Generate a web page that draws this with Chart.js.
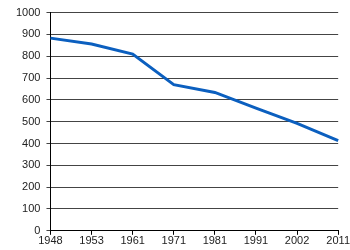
<!DOCTYPE html>
<html>
<head>
<meta charset="utf-8">
<script src="https://cdn.jsdelivr.net/npm/chart.js@4"></script>
<style>
html,body{margin:0;padding:0;background:#fff;}
#wrap{width:350px;height:250px;}
</style>
</head>
<body>
<div id="wrap"><canvas id="c" width="350" height="250"></canvas></div>
<script>
const categories = ['1948','1953','1961','1971','1981','1991','2002','2011'];
const values = [883, 856, 810, 670, 634, 562, 492, 413];
const yTicks = [0,100,200,300,400,500,600,700,800,900,1000];

new Chart(document.getElementById('c'), {
  type: 'line',
  data: {
    labels: categories,
    datasets: [{
      data: values,
      borderColor: '#0b5fbf',
      borderWidth: 3,
      pointRadius: 0,
      tension: 0,
      fill: false
    }]
  },
  options: {
    responsive: false,
    animation: false,
    devicePixelRatio: 1,
    layout: { padding: { left: 10, right: 5, top: 0, bottom: 2 } },
    plugins: { legend: { display: false }, tooltip: { enabled: false } },
    scales: {
      x: {
        offset: false,
        grid: { drawOnChartArea: false, drawTicks: true, tickLength: 4, color: '#000' },
        border: { color: '#000', width: 1 },
        ticks: { color: '#222', font: { family: 'Liberation Sans, Arial', size: 11 }, padding: 0, maxRotation: 0, autoSkip: false }
      },
      y: {
        min: 0, max: 1000,
        afterBuildTicks: (s) => { s.ticks = yTicks.map(v => ({ value: v })); },
        grid: { color: '#444', tickLength: 4, lineWidth: 1 },
        border: { color: '#000', width: 1 },
        ticks: { color: '#222', font: { family: 'Liberation Sans, Arial', size: 11 }, padding: 6, callback: (v) => String(v) }
      }
    }
  }
});
</script>
</body>
</html>
